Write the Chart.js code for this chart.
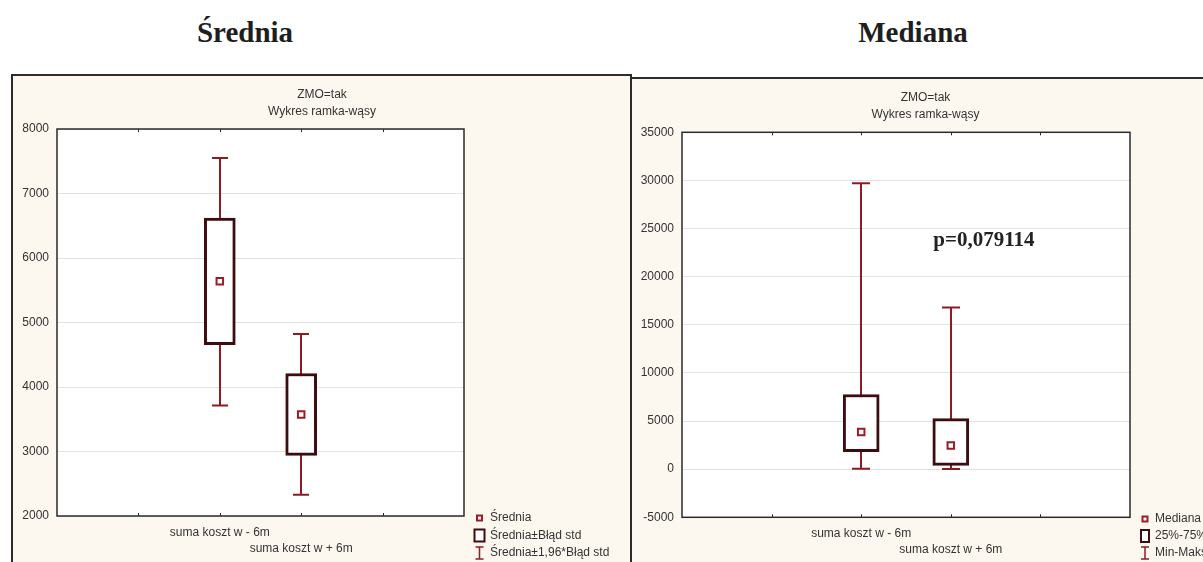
<!DOCTYPE html>
<html>
<head>
<meta charset="utf-8">
<script src="https://cdn.jsdelivr.net/npm/chart.js@4/dist/chart.umd.min.js"></script>
<style>
  html, body { margin: 0; padding: 0; background: #fff; overflow: hidden; width: 1203px; height: 562px; }
  .head { position: absolute; top: 18px; width: 300px; text-align: center;
          font: bold 29px/29px "Liberation Serif", "Times New Roman", serif; color: #1e1e1e; }
  .panel { position: absolute; background: #fcf8ef; border: 2px solid #2b2b2b; border-bottom: none; }
  canvas { position: absolute; }
</style>
</head>
<body>
<div class="head" style="left:95px">Średnia</div>
<div class="head" style="left:763px">Mediana</div>
<div class="panel" style="left:11px;top:74px;width:617px;height:500px"></div>
<div class="panel" style="left:630px;top:77px;width:600px;height:500px"></div>
<canvas id="meanChart" width="618" height="486" style="left:13px;top:76px;width:618px;height:486px"></canvas>
<canvas id="medianChart" width="587" height="483" style="left:632px;top:79px;width:587px;height:483px"></canvas>

<script>
// ---- data ----
const categories = ['suma koszt w - 6m', 'suma koszt w + 6m'];
const categoryPositions = [2, 3];
const titleLines = ['ZMO=tak', 'Wykres ramka-wąsy'];

// mean ± standard error, mean ± 1.96 * standard error
const meanValues = [5640, 3575];
const meanBoxLow = [4655, 2940];
const meanBoxHigh = [6620, 4210];
const meanWhiskerLow = [3715, 2330];
const meanWhiskerHigh = [7550, 4820];
const meanAxisTicks = [2000, 3000, 4000, 5000, 6000, 7000, 8000];
const meanLegend = ['Średnia', 'Średnia±Błąd std', 'Średnia±1,96*Błąd std'];

// median, quartiles, min-max
const medianValues = [3850, 2460];
const quartileLow = [1810, 400];
const quartileHigh = [7760, 5260];
const minValues = [50, 30];
const maxValues = [29700, 16800];
const medianAxisTicks = [-5000, 0, 5000, 10000, 15000, 20000, 25000, 30000, 35000];
const medianLegend = ['Mediana', '25%-75%', 'Min-Maks'];
const pValueLabel = 'p=0,079114';

// ---- styling ----
const WHISKER = '#8f1b22';
const BOX = '#3d0c0e';
const MARK = '#9a1c24';
const TEXT = '#333333';
const FRAME = '#2a2a2a';

Chart.defaults.font.family = '"Liberation Sans", Arial, sans-serif';
Chart.defaults.font.size = 12;
Chart.defaults.color = TEXT;

const boxPlotPlugin = {
  id: 'boxPlot',
  beforeDraw(chart) {
    const a = chart.chartArea, ctx = chart.ctx;
    ctx.save();
    ctx.fillStyle = '#ffffff';
    ctx.fillRect(a.left, a.top, a.right - a.left, a.bottom - a.top);
    ctx.restore();
  },
  beforeDatasetsDraw(chart) {
    const o = chart.options.plugins.boxPlot;
    const xs = chart.scales.x, ys = chart.scales.y, ctx = chart.ctx;
    ctx.save();
    ctx.strokeStyle = WHISKER;
    ctx.lineWidth = 2;
    o.positions.forEach((p, i) => {
      const x = Math.round(xs.getPixelForValue(p));
      const lo = ys.getPixelForValue(o.low[i]);
      const hi = ys.getPixelForValue(o.high[i]);
      const half = o.capWidth / 2;
      ctx.beginPath();
      ctx.moveTo(x, lo); ctx.lineTo(x, hi);
      ctx.moveTo(x - half, lo); ctx.lineTo(x + half, lo);
      ctx.moveTo(x - half, hi); ctx.lineTo(x + half, hi);
      ctx.stroke();
    });
    ctx.restore();
  },
  afterDraw(chart) {
    const o = chart.options.plugins.boxPlot;
    const a = chart.chartArea, xs = chart.scales.x, ys = chart.scales.y, ctx = chart.ctx;
    ctx.save();
    // plot frame
    ctx.strokeStyle = FRAME;
    ctx.lineWidth = 1.5;
    ctx.strokeRect(a.left, a.top, a.right - a.left, a.bottom - a.top);
    // inward tick marks on top and bottom edges
    ctx.lineWidth = 1;
    for (let v = xs.min + 1; v < xs.max; v++) {
      const x = Math.round(xs.getPixelForValue(v)) + 0.5;
      ctx.beginPath();
      ctx.moveTo(x, a.top); ctx.lineTo(x, a.top + 3);
      ctx.moveTo(x, a.bottom); ctx.lineTo(x, a.bottom - 3);
      ctx.stroke();
    }
    // legend
    const lg = o.legend;
    const cx = a.right + lg.iconOffset;
    const tx = a.right + lg.textOffset;
    lg.labels.forEach((label, i) => {
      const cy = a.bottom + lg.firstRow + i * lg.rowGap;
      if (i === 0) {
        ctx.fillStyle = '#fff';
        ctx.strokeStyle = MARK;
        ctx.lineWidth = 2;
        ctx.fillRect(cx - 2.5, cy - 2.5, 5, 5);
        ctx.strokeRect(cx - 2.5, cy - 2.5, 5, 5);
      } else if (i === 1) {
        ctx.fillStyle = '#fff';
        ctx.strokeStyle = BOX;
        ctx.lineWidth = 2;
        const w = lg.boxWidth;
        ctx.fillRect(cx - w / 2, cy - 6, w, 12);
        ctx.strokeRect(cx - w / 2, cy - 6, w, 12);
      } else {
        ctx.strokeStyle = WHISKER;
        ctx.lineWidth = 1.5;
        ctx.beginPath();
        ctx.moveTo(cx, cy - 6); ctx.lineTo(cx, cy + 6);
        ctx.moveTo(cx - 4, cy - 6); ctx.lineTo(cx + 4, cy - 6);
        ctx.moveTo(cx - 4, cy + 6); ctx.lineTo(cx + 4, cy + 6);
        ctx.stroke();
      }
      ctx.fillStyle = TEXT;
      ctx.font = '12px "Liberation Sans", Arial, sans-serif';
      ctx.textAlign = 'left';
      ctx.textBaseline = 'middle';
      ctx.fillText(label, tx, cy);
    });
    // annotation
    if (o.note) {
      ctx.fillStyle = '#222';
      ctx.font = 'bold 21px "Liberation Serif", "Times New Roman", serif';
      ctx.textAlign = 'center';
      ctx.textBaseline = 'middle';
      ctx.fillText(o.note.text, xs.getPixelForValue(o.note.x), ys.getPixelForValue(o.note.y));
    }
    ctx.restore();
  }
};

function buildChart(id, spec) {
  return new Chart(document.getElementById(id), {
    type: 'bar',
    data: {
      datasets: [
        {
          type: 'scatter',
          data: categoryPositions.map((p, i) => ({ x: p, y: spec.center[i] })),
          pointStyle: 'rect',
          pointRadius: 4.6,
          borderColor: MARK,
          backgroundColor: '#fff',
          borderWidth: 2,
          order: 0
        },
        {
          type: 'bar',
          data: categoryPositions.map((p, i) => ({ x: p, y: [spec.boxLow[i], spec.boxHigh[i]] })),
          backgroundColor: '#fff',
          borderColor: BOX,
          borderWidth: 3,
          borderSkipped: false,
          barThickness: spec.boxWidth,
          order: 1
        }
      ]
    },
    options: {
      responsive: false,
      animation: false,
      events: [],
      layout: { padding: 0 },
      plugins: {
        legend: { display: false },
        tooltip: { enabled: false },
        title: {
          display: true,
          text: titleLines,
          color: TEXT,
          font: { size: 12, weight: 'normal', lineHeight: 1.45 },
          padding: { top: 9.6, bottom: spec.titleGap }
        },
        boxPlot: {
          positions: categoryPositions,
          low: spec.whiskerLow,
          high: spec.whiskerHigh,
          capWidth: spec.capWidth,
          legend: spec.legend,
          note: spec.note
        }
      },
      scales: {
        x: {
          type: 'linear',
          min: 0, max: 5,
          offset: false,
          grid: { display: false, drawTicks: false },
          border: { display: false },
          afterFit: s => { s.height = spec.xAxisHeight; },
          afterBuildTicks: s => { s.ticks = [0, 1, 2, 3, 4, 5].map(v => ({ value: v })); },
          ticks: {
            autoSkip: false, maxRotation: 0, minRotation: 0, padding: 8,
            color: TEXT,
            font: { size: 12, lineHeight: 1.375 },
            callback: v => {
              const i = categoryPositions.indexOf(v);
              if (i < 0) return '';
              return i === 0 ? [categories[0]] : ['', categories[1]];
            }
          }
        },
        y: {
          type: 'linear',
          position: 'left',
          min: spec.ticks[0], max: spec.ticks[spec.ticks.length - 1],
          grid: { color: '#e2e2e2', lineWidth: 1, drawTicks: false },
          border: { display: false },
          afterFit: s => { s.width = spec.yAxisWidth; },
          afterBuildTicks: s => { s.ticks = spec.ticks.map(v => ({ value: v })); },
          ticks: { padding: 8, color: TEXT, font: { size: 12 }, callback: v => String(v) }
        },
        // empty right-hand axis: keeps room for the legend beside the plot
        legendSpace: {
          type: 'linear',
          position: 'right',
          grid: { display: false, drawTicks: false },
          border: { display: false },
          ticks: { display: false },
          afterFit: s => { s.width = spec.padRight; }
        }
      }
    },
    plugins: [boxPlotPlugin]
  });
}

buildChart('meanChart', {
  center: meanValues, boxLow: meanBoxLow, boxHigh: meanBoxHigh,
  whiskerLow: meanWhiskerLow, whiskerHigh: meanWhiskerHigh,
  ticks: meanAxisTicks,
  boxWidth: 31, capWidth: 16,
  padRight: 167, yAxisWidth: 44, xAxisHeight: 46, titleGap: 8.6,
  legend: { labels: meanLegend, iconOffset: 15.5, textOffset: 26, firstRow: 2, rowGap: 17.5, boxWidth: 10 },
  note: null
});

buildChart('medianChart', {
  center: medianValues, boxLow: quartileLow, boxHigh: quartileHigh,
  whiskerLow: minValues, whiskerHigh: maxValues,
  ticks: medianAxisTicks,
  boxWidth: 36, capWidth: 18,
  padRight: 89, yAxisWidth: 50, xAxisHeight: 44.7, titleGap: 8.9,
  legend: { labels: medianLegend, iconOffset: 15, textOffset: 25, firstRow: 1.7, rowGap: 17, boxWidth: 8 },
  note: { text: pValueLabel, x: 3.37, y: 23800 }
});
</script>
</body>
</html>
